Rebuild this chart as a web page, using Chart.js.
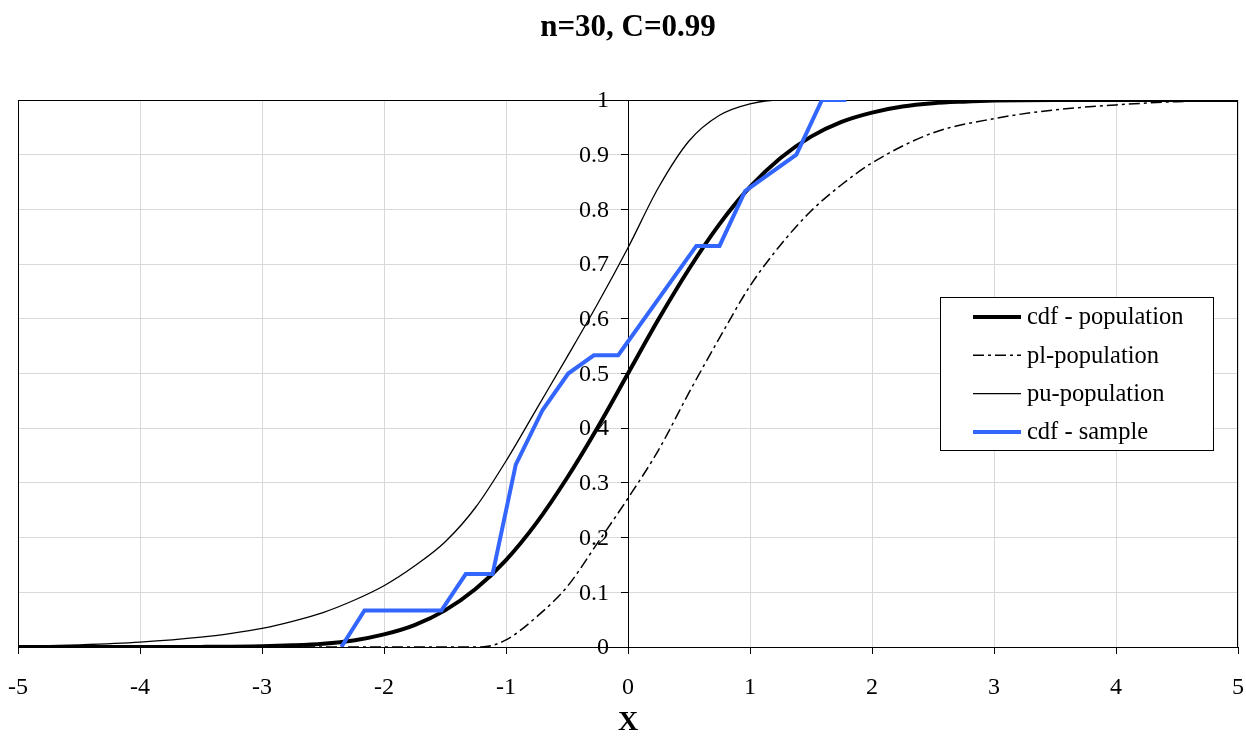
<!DOCTYPE html>
<html>
<head>
<meta charset="utf-8">
<script src="https://cdn.jsdelivr.net/npm/chart.js@4.4.0/dist/chart.umd.min.js"></script>
<style>
html, body { margin: 0; padding: 0; background: #fff; }
#wrap { width: 1246px; height: 738px; position: relative; }
</style>
</head>
<body>
<div id="wrap"><canvas id="cdf-chart"></canvas></div>
<script>
// values
var popX = [-5, -4, -3.5, -3, -2.75, -2.5, -2.25, -2, -1.75, -1.5, -1.25, -1, -0.75, -0.5, -0.25, 0, 0.25, 0.5, 0.75, 1, 1.25, 1.5, 1.75, 2, 2.25, 2.5, 2.75, 3, 3.5, 4, 5];
var popY = [0, 0, 0.0002, 0.0013, 0.003, 0.006, 0.012, 0.023, 0.04, 0.067, 0.106, 0.159, 0.227, 0.309, 0.401, 0.5, 0.599, 0.691, 0.773, 0.841, 0.894, 0.933, 0.96, 0.977, 0.988, 0.994, 0.997, 0.999, 1, 1, 1];

var plX = [-5, -1.2, -1, -0.75, -0.5, -0.25, 0, 0.25, 0.5, 0.75, 1, 1.25, 1.5, 1.75, 2, 2.5, 3, 3.5, 4, 4.5, 5];
var plY = [0, 0, 0.013, 0.055, 0.11, 0.19, 0.272, 0.36, 0.465, 0.565, 0.66, 0.735, 0.797, 0.845, 0.885, 0.94, 0.966, 0.982, 0.991, 0.997, 1];

var puX = [-5, -4.5, -4, -3.5, -3.25, -3, -2.75, -2.5, -2.25, -2, -1.75, -1.5, -1.25, -1, -0.75, -0.5, -0.25, 0, 0.25, 0.5, 0.75, 1, 1.25, 5];
var puY = [0.001, 0.004, 0.009, 0.018, 0.025, 0.034, 0.047, 0.063, 0.085, 0.112, 0.148, 0.192, 0.255, 0.34, 0.435, 0.53, 0.627, 0.73, 0.84, 0.925, 0.972, 0.993, 1, 1];

var sampleX = [-2.35, -2.16, -1.53, -1.33, -1.11, -0.92, -0.70, -0.49, -0.28, -0.08, 0.56, 0.75, 0.96, 1.38, 1.59, 1.79];
var sampleY = [0, 0.0667, 0.0667, 0.1333, 0.1333, 0.3333, 0.4333, 0.5, 0.5333, 0.5333, 0.7333, 0.7333, 0.8333, 0.9, 1, 1];

var xTicks = [-5, -4, -3, -2, -1, 0, 1, 2, 3, 4, 5];
var yTicks = ['0', '0.1', '0.2', '0.3', '0.4', '0.5', '0.6', '0.7', '0.8', '0.9', '1'];

var SERIF = "'Liberation Serif', 'Times New Roman', serif";

function pts(xs, ys) {
    return xs.map(function(x, i) { return { x: x, y: ys[i] }; });
}

// plot frame + y labels next to the axis at x=0
var framePlugin = {
    id: 'frame',
    beforeDatasetsDraw: function(chart) {
        var c = chart.ctx, a = chart.chartArea;
        var xs = chart.scales.x, ys = chart.scales.y;
        c.save();
        c.strokeStyle = '#000';
        c.lineWidth = 1;
        c.strokeRect(Math.round(a.left) + 0.5, Math.round(a.top) + 0.5, Math.round(a.right - a.left) - 1, Math.round(a.bottom - a.top));
        c.fillStyle = '#000';
        c.font = '24px ' + SERIF;
        c.textAlign = 'right';
        c.textBaseline = 'middle';
        var x0 = xs.getPixelForValue(0);
        ys.ticks.forEach(function(t, i) {
            c.fillText(yTicks[i], x0 - 19, ys.getPixelForValue(t.value) + 1);
        });
        c.restore();
    }
};

var legendPlugin = {
    id: 'boxLegend',
    afterDraw: function(chart) {
        var c = chart.ctx;
        var bx = 940, by = 297, bw = 273, bh = 153;
        c.save();
        c.fillStyle = '#fff';
        c.fillRect(bx, by, bw, bh);
        c.strokeStyle = '#000';
        c.lineWidth = 1;
        c.strokeRect(bx + 0.5, by + 0.5, bw, bh);
        c.font = '24.5px ' + SERIF;
        c.textBaseline = 'middle';
        c.textAlign = 'left';
        chart.data.datasets.forEach(function(ds, i) {
            var y = by + 20 + i * 38.3;
            c.beginPath();
            c.strokeStyle = ds.borderColor;
            c.lineWidth = ds.borderWidth;
            c.setLineDash(ds.borderDash || []);
            c.moveTo(973, y);
            c.lineTo(1021, y);
            c.stroke();
            c.setLineDash([]);
            c.fillStyle = '#000';
            c.fillText(ds.label, 1027, y + 1);
        });
        c.restore();
    }
};

new Chart(document.getElementById('cdf-chart').getContext('2d'), {
    type: 'line',
    data: {
        datasets: [
            {
                label: 'cdf - population',
                data: pts(popX, popY),
                borderColor: '#000',
                borderWidth: 4,
                cubicInterpolationMode: 'monotone',
                order: 1
            },
            {
                label: 'pl-population',
                data: pts(plX, plY),
                borderColor: '#000',
                borderWidth: 1.5,
                borderDash: [11, 4, 3, 4],
                cubicInterpolationMode: 'monotone',
                order: 2
            },
            {
                label: 'pu-population',
                data: pts(puX, puY),
                borderColor: '#000',
                borderWidth: 1.3,
                cubicInterpolationMode: 'monotone',
                order: 2
            },
            {
                label: 'cdf - sample',
                data: pts(sampleX, sampleY),
                borderColor: '#3366ff',
                borderWidth: 4,
                tension: 0,
                order: 0
            }
        ]
    },
    options: {
        responsive: true,
        maintainAspectRatio: false,
        animation: false,
        elements: { point: { radius: 0, hoverRadius: 0 }, line: { fill: false, borderCapStyle: 'butt' } },
        layout: { padding: { left: 18, right: 8, top: 0, bottom: 0 } },
        scales: {
            x: {
                type: 'linear',
                min: -5,
                max: 5,
                afterFit: function(s) { s.height = 91; s.paddingLeft = 0; s.paddingRight = 0; },
                afterBuildTicks: function(s) { s.ticks = xTicks.map(function(v) { return { value: v }; }); },
                ticks: { color: '#000', font: { family: SERIF, size: 24 }, padding: 19, maxRotation: 0 },
                grid: { color: '#d9d9d9', tickColor: '#000', tickLength: 7, lineWidth: 1 },
                border: { color: '#000', width: 1 },
                title: { display: true, text: 'X', color: '#000', font: { family: SERIF, size: 28, weight: 'bold', lineHeight: 1 }, padding: { top: 0, bottom: 1 } }
            },
            y: {
                type: 'linear',
                position: { x: 0 },
                min: 0,
                max: 1,
                ticks: { display: false, stepSize: 0.1 },
                grid: { color: '#d9d9d9', tickColor: '#000', tickLength: 7, lineWidth: 1 },
                border: { color: '#000', width: 1 }
            }
        },
        plugins: {
            legend: { display: false },
            tooltip: { enabled: false },
            title: {
                display: true,
                fullSize: false,
                text: 'n=30, C=0.99',
                color: '#000',
                font: { family: SERIF, size: 31, weight: 'bold', lineHeight: 1.2 },
                padding: { top: 9, bottom: 53.8 }
            }
        }
    },
    plugins: [framePlugin, legendPlugin]
});
</script>
</body>
</html>
